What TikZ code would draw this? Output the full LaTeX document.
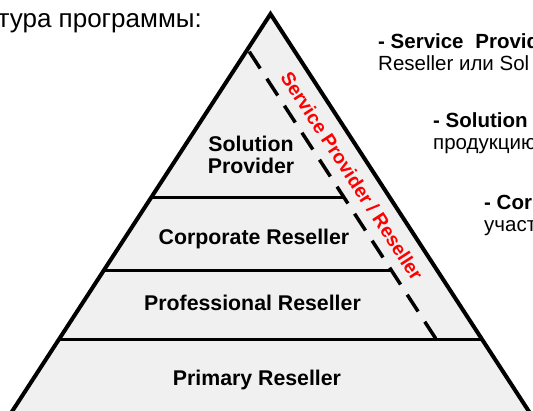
\documentclass[tikz,border=0pt]{standalone}
\usepackage{fontspec}
\setmainfont{Liberation Sans}
\definecolor{pyramidgray}{HTML}{F0F0F0}
\begin{document}
\begin{tikzpicture}[x=1pt, y=-1pt, every node/.style={inner sep=0pt, anchor=base}]
	% \drawtier#y#xright
	\def\drawtier#1#2{
		\draw[line width=3pt] ({270.5 - 0.65*(#1 - 14)}, #1) -- (#2, #1);
	}
	
	% \drawlabel#name#x#y#text
	\def\drawlabel#1#2#3#4{
		\node[font=\bfseries\fontsize{21.3}{21.3}\selectfont, align=center] (#1) at (#2, #3) {#4};
	}
	
	% \drawnote#name#x#y#boldline#line
	\def\drawnote#1#2#3#4#5{
		\node[anchor=base west, font=\bfseries\fontsize{20.5}{22}\selectfont] (#1head) at (#2, #3) {#4};
		\node[anchor=base west, font=\fontsize{20.5}{22}\selectfont] (#1text) at (#2, #3 + 22) {#5};
	}
	
	\useasboundingbox (0, 0) rectangle (533, 410);
	
	% pyramid body
	\fill[pyramidgray] (0, 430) -- (270.5, 14) -- (541, 430) -- cycle;
	
	% tiers and the service provider strip
	\drawtier{197}{343.7}
	\drawtier{270}{391.2}
	\drawtier{339}{481.8}
	\draw[line width=3.5pt, dash pattern=on 20pt off 12.2pt] (249.3, 51.7) -- (436, 339);
	
	% edges
	\draw[line width=4pt, line join=miter] (0, 430) -- (270.5, 14) -- (541, 430);
	
	% labels
	\node[font=\bfseries\fontsize{21.3}{21.3}\selectfont, align=center, anchor=center] (solution) at (251, 155) {Solution\\Provider};
	\drawlabel{corporate}{254}{244}{Corporate Reseller}
	\drawlabel{professional}{252.5}{310}{Professional Reseller}
	\drawlabel{primary}{257}{385}{Primary Reseller}
	\node[anchor=center, rotate=-57, text=red, font=\bfseries\fontsize{19.3}{19.3}\selectfont] (service) at (352, 176) {Service Provider / Reseller};
	
	% title and notes
	\node[anchor=base east, font=\fontsize{26}{26}\selectfont] (title) at (202, 27) {тура программы:};
	\drawnote{sp}{378}{48}{- Service\hspace{6pt} Provid}{Reseller или Sol}
	\drawnote{sol}{433}{127}{- Solution}{продукцию}
	\drawnote{corp}{484}{209}{- Cor}{участ}
\end{tikzpicture}
\end{document}
